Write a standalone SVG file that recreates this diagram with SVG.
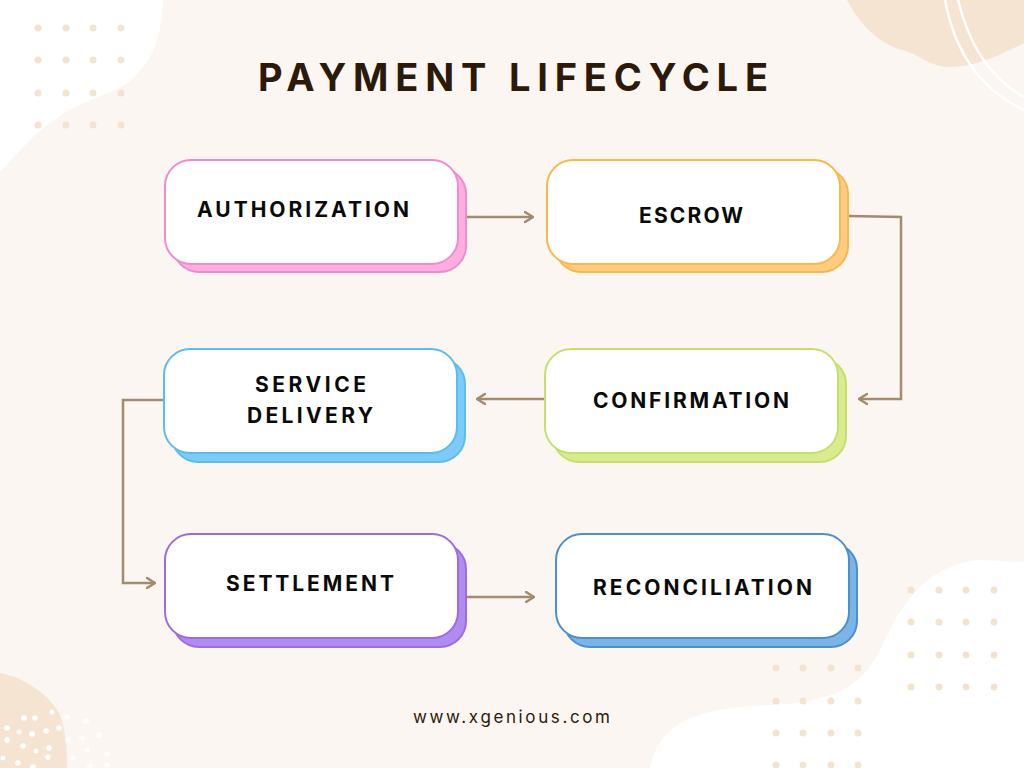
<svg xmlns="http://www.w3.org/2000/svg" width="1024" height="768" viewBox="0 0 1024 768">
  <defs>
    <style>
      .dot { fill: #F3E3CF; }
      .wdot { fill: #FFFFFF; }
      .main { fill: #FFFFFF; stroke-width: 2; }
      .shadow { stroke-width: 2; }
      .label { font-family: Inter, "Noto Sans", "Liberation Sans", sans-serif; font-weight: 700; font-size: 21px; fill: #0A0A0A; }
      .title { font-family: Inter, "Noto Sans", "Liberation Sans", sans-serif; font-weight: 700; font-size: 38px; fill: #2B1A0A; }
      .footer { font-family: Inter, "Noto Sans", "Liberation Sans", sans-serif; font-weight: 400; font-size: 17px; fill: #2B1A0A; }
      .conn { fill: none; stroke: #A38B6F; stroke-width: 2.5; }
    </style>
    <marker id="arr" viewBox="0 0 10 12" refX="9" refY="6" markerWidth="10" markerHeight="12" markerUnits="userSpaceOnUse" orient="auto">
      <path d="M1,1 L9,6 L1,11" fill="none" stroke="#A38B6F" stroke-width="2.5" stroke-linecap="round" stroke-linejoin="round"/>
    </marker>
  </defs>

  <!-- background -->
  <rect x="0" y="0" width="1024" height="768" fill="#FBF6F1"/>
  <path d="M0,0 L163,0 C162,40 150,70 120,88 C90,100 60,110 30,140 L0,172 Z" fill="#FFFFFF"/>
  <path d="M847,0 C860,25 880,45 903,50 C920,55 930,67 950,67 C975,67 1000,55 1024,43 L1024,0 Z" fill="#F4E4D1"/>
  <path d="M945,0 Q960,80 1024,110" fill="none" stroke="#FFFFFF" stroke-width="2.5"/>
  <path d="M958,0 Q975,70 1024,97" fill="none" stroke="#FFFFFF" stroke-width="2.5"/>
  <path d="M0,673 C25,678 50,695 60,715 C66,730 67,750 67,768 L0,768 Z" fill="#F4E4D1"/>
  <path d="M650,768 C660,720 700,708 770,705 C830,702 860,690 880,650 C905,595 930,565 980,560 L1024,562 L1024,768 Z" fill="#FFFFFF"/>

  <!-- dot grids -->
  <g id="dots-top-left">
    <circle class="dot" cx="38" cy="28" r="3.5"/><circle class="dot" cx="66" cy="28" r="3.5"/><circle class="dot" cx="93" cy="28" r="3.5"/><circle class="dot" cx="121" cy="28" r="3.5"/>
    <circle class="dot" cx="38" cy="60" r="3.5"/><circle class="dot" cx="66" cy="60" r="3.5"/><circle class="dot" cx="93" cy="60" r="3.5"/><circle class="dot" cx="121" cy="60" r="3.5"/>
    <circle class="dot" cx="38" cy="93" r="3.5"/><circle class="dot" cx="66" cy="93" r="3.5"/><circle class="dot" cx="93" cy="93" r="3.5"/><circle class="dot" cx="121" cy="93" r="3.5"/>
    <circle class="dot" cx="38" cy="125" r="3.5"/><circle class="dot" cx="66" cy="125" r="3.5"/><circle class="dot" cx="93" cy="125" r="3.5"/><circle class="dot" cx="121" cy="125" r="3.5"/>
  </g>
  <g id="dots-bottom-mid">
    <circle class="dot" cx="776" cy="668" r="3.5"/><circle class="dot" cx="803" cy="668" r="3.5"/><circle class="dot" cx="831" cy="668" r="3.5"/><circle class="dot" cx="858" cy="668" r="3.5"/>
    <circle class="dot" cx="776" cy="701" r="3.5"/><circle class="dot" cx="803" cy="701" r="3.5"/><circle class="dot" cx="831" cy="701" r="3.5"/><circle class="dot" cx="858" cy="701" r="3.5"/>
    <circle class="dot" cx="776" cy="733" r="3.5"/><circle class="dot" cx="803" cy="733" r="3.5"/><circle class="dot" cx="831" cy="733" r="3.5"/><circle class="dot" cx="858" cy="733" r="3.5"/>
    <circle class="dot" cx="776" cy="765" r="3.5"/><circle class="dot" cx="803" cy="765" r="3.5"/><circle class="dot" cx="831" cy="765" r="3.5"/><circle class="dot" cx="858" cy="765" r="3.5"/>
  </g>
  <g id="dots-bottom-right">
    <circle class="dot" cx="911" cy="590" r="3.5"/><circle class="dot" cx="939" cy="590" r="3.5"/><circle class="dot" cx="966" cy="590" r="3.5"/><circle class="dot" cx="994" cy="590" r="3.5"/>
    <circle class="dot" cx="911" cy="622" r="3.5"/><circle class="dot" cx="939" cy="622" r="3.5"/><circle class="dot" cx="966" cy="622" r="3.5"/><circle class="dot" cx="994" cy="622" r="3.5"/>
    <circle class="dot" cx="911" cy="655" r="3.5"/><circle class="dot" cx="939" cy="655" r="3.5"/><circle class="dot" cx="966" cy="655" r="3.5"/><circle class="dot" cx="994" cy="655" r="3.5"/>
    <circle class="dot" cx="911" cy="687" r="3.5"/><circle class="dot" cx="939" cy="687" r="3.5"/><circle class="dot" cx="966" cy="687" r="3.5"/><circle class="dot" cx="994" cy="687" r="3.5"/>
  </g>
  <g id="dots-bottom-left">
    <circle class="wdot" cx="24" cy="718" r="2.8"/><circle class="wdot" cx="35" cy="718" r="2.8"/><circle class="wdot" cx="52" cy="712" r="2.5"/><circle class="wdot" cx="67" cy="717" r="2.8"/>
    <circle class="wdot" cx="86" cy="721" r="2.8"/><circle class="wdot" cx="7" cy="728" r="2.8"/><circle class="wdot" cx="19" cy="732" r="2.5"/><circle class="wdot" cx="32" cy="734" r="2.8"/>
    <circle class="wdot" cx="46" cy="731" r="2.8"/><circle class="wdot" cx="59" cy="728" r="2.8"/><circle class="wdot" cx="7" cy="740" r="2.8"/><circle class="wdot" cx="23" cy="746" r="2.8"/>
    <circle class="wdot" cx="36" cy="751" r="2.5"/><circle class="wdot" cx="49" cy="748" r="2.8"/><circle class="wdot" cx="68" cy="740" r="2.8"/><circle class="wdot" cx="82" cy="738" r="2.8"/>
    <circle class="wdot" cx="99" cy="735" r="2.8"/><circle class="wdot" cx="87" cy="750" r="2.8"/><circle class="wdot" cx="107" cy="754" r="2.8"/><circle class="wdot" cx="48" cy="757" r="2.8"/>
    <circle class="wdot" cx="73" cy="758" r="2.8"/><circle class="wdot" cx="3" cy="758" r="2.5"/><circle class="wdot" cx="18" cy="763" r="2.8"/><circle class="wdot" cx="33" cy="767" r="2.8"/>
    <circle class="wdot" cx="90" cy="766" r="2.8"/><circle class="wdot" cx="107" cy="765" r="2.8"/>
  </g>

  <!-- title -->
  <text class="title" x="258" y="91" textLength="510" lengthAdjust="spacing">PAYMENT LIFECYCLE</text>

  <!-- connectors -->
  <g id="connectors">
    <path class="conn" d="M467,217 L533,217" marker-end="url(#arr)"/>
    <path class="conn" d="M849,216 L901,217 L901,399 L859,399" marker-end="url(#arr)"/>
    <path class="conn" d="M545,399 L477,399" marker-end="url(#arr)"/>
    <path class="conn" d="M163,400 L123,400 L123,583 L155,583" marker-end="url(#arr)"/>
    <path class="conn" d="M467,597 L534,597" marker-end="url(#arr)"/>
  </g>

  <!-- nodes -->
  <g id="node-authorization">
    <rect class="shadow" x="173" y="168" width="293" height="104" rx="26" fill="#FFAEDF" stroke="#F08BCF"/>
    <rect class="main" x="165" y="160" width="293" height="104" rx="26" stroke="#F08BCF"/>
    <text class="label" x="197" y="217" textLength="212" lengthAdjust="spacing">AUTHORIZATION</text>
  </g>
  <g id="node-escrow">
    <rect class="shadow" x="555" y="168" width="293" height="104" rx="26" fill="#FFCC80" stroke="#F9B74E"/>
    <rect class="main" x="547" y="160" width="293" height="104" rx="26" stroke="#F9B74E"/>
    <text class="label" x="639" y="223" textLength="104" lengthAdjust="spacing">ESCROW</text>
  </g>
  <g id="node-confirmation">
    <rect class="shadow" x="553" y="358" width="293" height="104" rx="26" fill="#D8EC8F" stroke="#C5E06A"/>
    <rect class="main" x="545" y="349" width="293" height="104" rx="26" stroke="#C5E06A"/>
    <text class="label" x="593" y="408" textLength="196" lengthAdjust="spacing">CONFIRMATION</text>
  </g>
  <g id="node-service-delivery">
    <rect class="shadow" x="172" y="358" width="293" height="104" rx="26" fill="#7DCBF8" stroke="#5BBDEB"/>
    <rect class="main" x="164" y="349" width="293" height="104" rx="26" stroke="#5BBDEB"/>
    <text class="label" x="255" y="392" textLength="111" lengthAdjust="spacing">SERVICE</text>
    <text class="label" x="247" y="423" textLength="126" lengthAdjust="spacing">DELIVERY</text>
  </g>
  <g id="node-settlement">
    <rect class="shadow" x="173" y="543" width="293" height="104" rx="26" fill="#B08CF0" stroke="#9E6BE0"/>
    <rect class="main" x="165" y="534" width="293" height="104" rx="26" stroke="#9E6BE0"/>
    <text class="label" x="226" y="591" textLength="168" lengthAdjust="spacing">SETTLEMENT</text>
  </g>
  <g id="node-reconciliation">
    <rect class="shadow" x="564" y="543" width="293" height="104" rx="26" fill="#7CB4E6" stroke="#4A8FD0"/>
    <rect class="main" x="556" y="534" width="293" height="104" rx="26" stroke="#4A8FD0"/>
    <text class="label" x="593" y="595" textLength="219" lengthAdjust="spacing">RECONCILIATION</text>
  </g>

  <!-- footer -->
  <text class="footer" x="413" y="723" textLength="197" lengthAdjust="spacing">www.xgenious.com</text>
</svg>
